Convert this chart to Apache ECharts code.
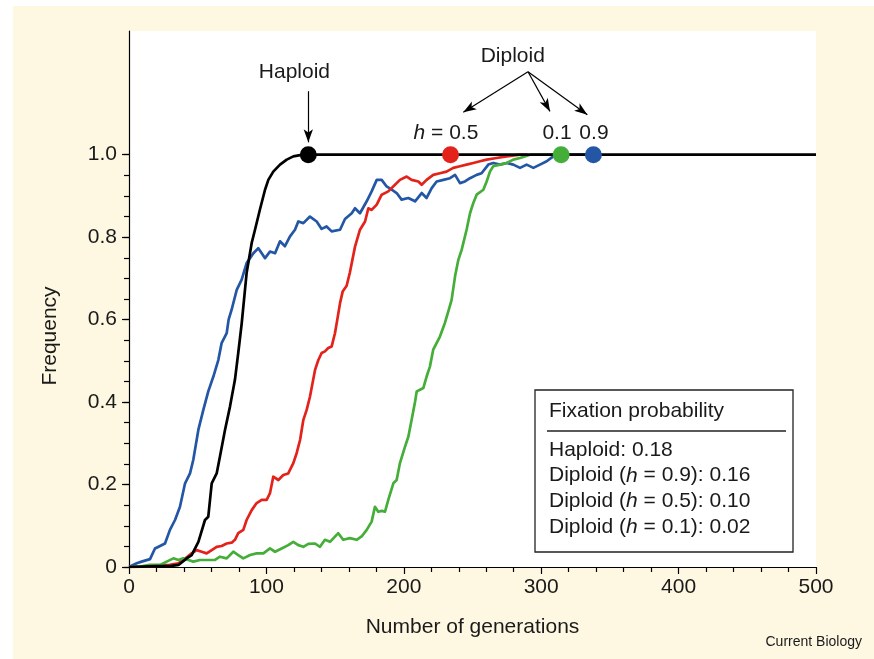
<!DOCTYPE html>
<html>
<head>
<meta charset="utf-8">
<script src="https://cdn.jsdelivr.net/npm/echarts@6/dist/echarts.min.js"></script>
<style>
  html,body{margin:0;padding:0;background:#ffffff;}
  #bg{position:absolute;left:13px;top:6px;width:861px;height:653px;background:#fef8e2;}
  #chart{position:absolute;left:0;top:0;width:874px;height:659px;}
</style>
</head>
<body>
<div id="bg"></div>
<div id="chart"></div>
<script>
// ---- data (generation, frequency) ----
const haploid = [[0,0],[10,0.001],[20,0.002],[30,0.002],[36,0.005],[42,0.021],[45.6,0.029],[50.5,0.061],[55.3,0.114],[57.7,0.122],[60.2,0.203],[63.8,0.227],[66.2,0.268],[69.9,0.333],[73.5,0.389],[77.1,0.454],[79.5,0.519],[82,0.59],[85.6,0.713],[89.3,0.786],[91.7,0.818],[95.3,0.867],[99,0.915],[101.4,0.939],[105,0.959],[109.9,0.976],[114.8,0.988],[119.6,0.996],[126.6,1],[500,1]];

const diploidH09 = [[0,0],[5.6,0.009],[9.2,0.013],[15.3,0.019],[18.9,0.045],[22.6,0.051],[26.2,0.057],[29.8,0.09],[33.5,0.114],[37.1,0.146],[40.8,0.203],[44.4,0.227],[46.8,0.26],[50.5,0.333],[54.1,0.381],[57.7,0.426],[61.4,0.462],[65,0.502],[67.4,0.543],[71.1,0.567],[72.5,0.6],[74.7,0.624],[78.4,0.672],[82,0.697],[85.6,0.737],[90.5,0.761],[94.1,0.773],[96.6,0.761],[99,0.749],[102.6,0.765],[106.3,0.761],[109.9,0.79],[113.5,0.778],[117.2,0.802],[120.8,0.818],[123.2,0.838],[126.9,0.834],[131.7,0.85],[136.6,0.838],[140.2,0.82],[143.8,0.826],[147.5,0.814],[153.6,0.818],[157.2,0.844],[162.1,0.858],[164.5,0.87],[168.1,0.858],[173,0.887],[176.6,0.911],[180.3,0.939],[183.9,0.939],[187.5,0.923],[191.2,0.915],[194.8,0.907],[198.4,0.891],[203.3,0.895],[208.2,0.887],[213,0.907],[216.6,0.895],[220.3,0.919],[223.9,0.935],[228.8,0.939],[233.6,0.943],[237.3,0.951],[240.9,0.931],[244.5,0.935],[248.2,0.943],[253,0.951],[256.6,0.955],[261.5,0.976],[265.1,0.98],[270,0.976],[274.9,0.98],[279.7,0.976],[284.6,0.968],[289.4,0.976],[294.3,0.968],[299.1,0.976],[304,0.984],[308.8,0.996],[312.5,1],[338,1]];

const diploidH05 = [[0,0],[10,0.001],[17.7,0.002],[29.8,0.005],[35.9,0.009],[39.5,0.017],[45.6,0.033],[49.2,0.041],[52.9,0.037],[56.5,0.033],[60.2,0.041],[63.8,0.049],[67.4,0.051],[71.1,0.057],[74.7,0.059],[77.1,0.066],[79.5,0.082],[83.2,0.09],[85.6,0.114],[89.3,0.138],[92.9,0.155],[96.6,0.163],[100.2,0.163],[102.6,0.179],[105,0.219],[108.7,0.211],[112.3,0.223],[115.9,0.227],[119.6,0.252],[122,0.276],[124.5,0.308],[126.9,0.357],[129.3,0.381],[131.7,0.413],[135.4,0.478],[137.8,0.502],[140.2,0.519],[142.6,0.523],[145,0.531],[147.5,0.535],[149.9,0.567],[151.6,0.6],[153.6,0.64],[155.5,0.668],[158.4,0.682],[160.8,0.715],[164.5,0.777],[168.1,0.818],[171.8,0.838],[174.2,0.87],[176.6,0.866],[180.3,0.879],[183.9,0.903],[188.7,0.911],[193.6,0.927],[197.2,0.939],[202.1,0.947],[205.7,0.939],[210.6,0.935],[213,0.927],[216.6,0.939],[221.4,0.951],[226.3,0.955],[231.1,0.959],[236,0.968],[240.9,0.972],[245.7,0.976],[250.6,0.98],[255.5,0.984],[260.3,0.988],[267.6,0.992],[274.9,0.996],[284.6,1],[290,1]];

const diploidH01 = [[0,0],[8,0.001],[15.3,0.005],[22.6,0.005],[27.4,0.013],[32.3,0.021],[35.9,0.017],[39.5,0.021],[43.2,0.017],[46.8,0.013],[51.7,0.017],[56.5,0.017],[62.6,0.017],[66.2,0.025],[71.1,0.021],[75.9,0.037],[79.5,0.029],[83.2,0.021],[88.1,0.029],[92.9,0.033],[97.8,0.033],[102.6,0.045],[106.3,0.037],[111.1,0.045],[115.9,0.053],[119.6,0.061],[123.2,0.053],[126.9,0.049],[130.5,0.056],[135.4,0.057],[139,0.049],[142.6,0.066],[146.3,0.061],[152.3,0.082],[155.9,0.066],[160.8,0.07],[165.7,0.066],[169.3,0.074],[173,0.09],[176.6,0.11],[179,0.146],[181.4,0.134],[184,0.136],[186.3,0.134],[188.7,0.163],[192.4,0.203],[194.8,0.211],[197.2,0.252],[200.9,0.292],[203.3,0.316],[205.7,0.357],[208.2,0.401],[209.4,0.426],[211.8,0.43],[214.2,0.434],[216.6,0.462],[219,0.486],[221.4,0.527],[226.3,0.559],[229.9,0.592],[232.4,0.62],[234.8,0.648],[237.3,0.705],[239.7,0.745],[242.1,0.769],[245.7,0.818],[248.2,0.858],[250.6,0.883],[253,0.903],[257.9,0.915],[260.3,0.935],[262.7,0.959],[265.1,0.972],[270,0.976],[274.9,0.98],[279.7,0.988],[284.6,0.992],[291.9,1],[315,1]];

// fixation markers
const fixGen   = [130.5, 234, 314.5, 338];
const fixFreq  = [1, 1, 1, 1];
const fixNames = ['Haploid', 'h = 0.5', 'h = 0.1', 'h = 0.9'];

// axis ticks
const xTicks = [0, 100, 200, 300, 400, 500];
const yLabelValues = [0, 0.2, 0.4, 0.6, 0.8, 1.0];
const yMinorValues = [0,0.05,0.1,0.15,0.2,0.25,0.3,0.35,0.4,0.45,0.5,0.55,0.6,0.65,0.7,0.75,0.8,0.85,0.9,0.95,1.0];

// legend box text
const boxTitle = 'Fixation probability';
const boxLines = ['Haploid: 0.18', 'Diploid ({i|h} = 0.9): 0.16', 'Diploid ({i|h} = 0.5): 0.10', 'Diploid ({i|h} = 0.1): 0.02'];

const COL = { black:'#000000', blue:'#2456a6', red:'#e3231b', green:'#44ae38' };
const fixColors = [COL.black, COL.red, COL.green, COL.blue];
const FONT = '"Liberation Sans", Arial, Helvetica, sans-serif';
const TXT = '#1a1a1a';
const FS = 21;

const chart = echarts.init(document.getElementById('chart'), null, {renderer:'canvas'});

const lineSeries = (name, data, color, z) => ({
  name, type:'line', data, showSymbol:false, symbol:'none', z,
  lineStyle:{ color, width:2.7, join:'round' }, itemStyle:{color}
});

const annText = [
  { value:[120.4, 1.2], label:{ formatter:'Haploid' } },
  { value:[279.3, 1.24], label:{ formatter:'Diploid' } },
  { value:[230.7, 1.053], label:{ formatter:'{i|h} = 0.5' } },
  { value:[311.5, 1.053], label:{ formatter:'0.1' } },
  { value:[338.4, 1.053], label:{ formatter:'0.9' } }
];

const arrows = [
  [[130.5, 1.154], [130.5, 1.03]],
  [[290.4, 1.201], [243.3, 1.103]],
  [[290.4, 1.201], [306.4, 1.105]],
  [[290.4, 1.201], [333.6, 1.097]]
];

const option = {
  animation:false,
  backgroundColor:'transparent',
  textStyle:{ fontFamily:FONT },
  grid:{ left:129, right:58, top:31, bottom:92, show:true, backgroundColor:'#ffffff', borderWidth:0 },
  xAxis:{
    type:'value', min:0, max:500, interval:100,
    axisLine:{ show:true, lineStyle:{ color:'#000', width:1.2 } },
    axisTick:{ show:true, length:7, lineStyle:{ color:'#000', width:1.2 } },
    minorTick:{ show:true, splitNumber:5, length:5, lineStyle:{ color:'#000', width:1.2 } },
    splitLine:{ show:false },
    axisLabel:{ color:TXT, fontSize:FS, margin:10, fontFamily:FONT },
    name:'Number of generations', nameLocation:'middle', nameGap:50,
    nameTextStyle:{ color:TXT, fontSize:FS, fontFamily:FONT }
  },
  yAxis:[{
    type:'value', min:0, max:1.3, interval:0.1,
    axisLine:{ show:true, lineStyle:{ color:'#000', width:1.2 } },
    axisTick:{ show:true, length:7, customValues:yLabelValues, lineStyle:{ color:'#000', width:1.2 } },
    axisLabel:{ customValues:yLabelValues, color:TXT, fontSize:FS, margin:12, fontFamily:FONT,
      formatter:(v)=> v===0 ? '0' : v.toFixed(1) },
    splitLine:{ show:false }
  },{
    type:'value', min:0, max:1.3, interval:0.1, position:'left',
    axisLine:{ show:false },
    axisTick:{ show:true, length:5, customValues:yMinorValues, lineStyle:{ color:'#000', width:1.2 } },
    axisLabel:{ show:false }, splitLine:{ show:false }
  }],
  series:[
    lineSeries('Diploid h=0.9', diploidH09, COL.blue, 2),
    lineSeries('Diploid h=0.5', diploidH05, COL.red, 3),
    lineSeries('Diploid h=0.1', diploidH01, COL.green, 4),
    lineSeries('Haploid', haploid, COL.black, 5),
    {
      name:'Fixation', type:'scatter', z:6, symbol:'circle', symbolSize:17,
      itemStyle:{ opacity:1 },
      data: fixGen.map((g,i)=>({ value:[g, fixFreq[i]], name:fixNames[i], itemStyle:{ color:fixColors[i], opacity:1 } }))
    },
    {
      name:'Annotations', type:'scatter', z:7, symbolSize:0, silent:true,
      itemStyle:{ color:'transparent', opacity:1 },
      data: annText,
      label:{ show:true, position:'inside', color:TXT, fontSize:FS, fontFamily:FONT, textBorderWidth:0, textBorderColor:'transparent',
        rich:{ i:{ fontStyle:'italic', fontSize:FS, color:TXT, fontFamily:FONT, textBorderWidth:0 } } },
      markLine:{
        silent:true, symbol:['none','arrow'], symbolSize:[7,13], precision:3,
        lineStyle:{ color:'#000', width:1.2, type:'solid' }, label:{ show:false },
        itemStyle:{ color:'#000' },
        emphasis:{ disabled:true },
        data: arrows.map(a=>[{ coord:a[0] },{ coord:a[1] }])
      }
    }
  ],
  graphic:[
    { type:'text', x:50, y:336, rotation:Math.PI/2,
      style:{ text:'Frequency', fill:TXT, font:FS+'px '+FONT, textAlign:'center', textVerticalAlign:'middle', verticalAlign:'middle' } },
    { type:'text', x:862, y:642,
      style:{ text:'Current Biology', fill:TXT, font:'14px '+FONT, textAlign:'right', textVerticalAlign:'middle', verticalAlign:'middle' } },
    { type:'group', z:100, children:[
      { type:'rect', shape:{ x:535, y:390, width:258, height:162 }, style:{ fill:'#ffffff', stroke:'#222', lineWidth:1.3 } },
      { type:'text', x:549, y:411, style:{ text:boxTitle, fill:TXT, font:FS+'px '+FONT, textVerticalAlign:'middle', verticalAlign:'middle' } },
      { type:'line', shape:{ x1:547, y1:431, x2:786, y2:431 }, style:{ stroke:'#222', lineWidth:1.3 } },
      ...boxLines.map((t,i)=>({ type:'text', x:549, y:450 + i*25.7,
        style:{ text:t, fill:TXT, font:FS+'px '+FONT, textVerticalAlign:'middle', verticalAlign:'middle',
          rich:{ i:{ fontStyle:'italic', fontSize:FS, fontFamily:FONT, fill:TXT } } } }))
    ]}
  ]
};
chart.setOption(option);
</script>
</body>
</html>
